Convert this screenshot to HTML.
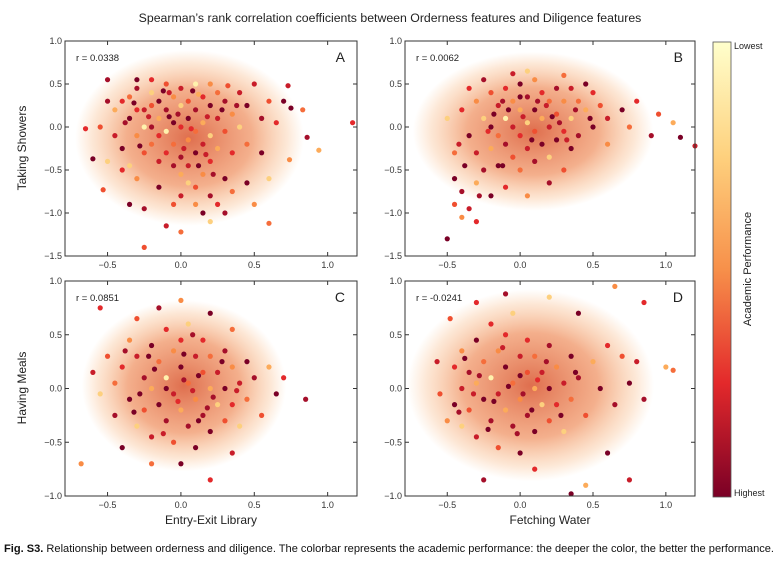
<!DOCTYPE html>
<html><head><meta charset="utf-8">
<style>
body{margin:0;background:#fff;width:780px;height:573px;overflow:hidden;font-family:"Liberation Sans",Arial,sans-serif}
svg text{font-family:"Liberation Sans",Arial,sans-serif}
</style></head>
<body>
<svg id="chart" width="780" height="573" viewBox="0 0 780 573">
<defs>
<linearGradient id="cbar" x1="0" y1="0" x2="0" y2="1">
<stop offset="0" stop-color="#ffffcc"/><stop offset="0.25" stop-color="#fed17e"/>
<stop offset="0.5" stop-color="#f7904a"/><stop offset="0.75" stop-color="#e3292b"/>
<stop offset="1" stop-color="#7a0026"/></linearGradient>
<radialGradient id="halo"><stop offset="0" stop-color="#d9552f" stop-opacity="0.85"/><stop offset="0.55" stop-color="#ec7a40" stop-opacity="0.6"/><stop offset="0.85" stop-color="#f6a05a" stop-opacity="0.25"/><stop offset="1" stop-color="#f8a860" stop-opacity="0"/></radialGradient>
</defs>
<text x="390" y="22" text-anchor="middle" font-size="12.3" fill="#222">Spearman’s rank correlation coefficients between Orderness features and Diligence features</text>
<g id="panels"></g>
<rect x="713" y="42" width="18" height="455" fill="url(#cbar)" stroke="#555" stroke-width="0.8"/>
<text x="734" y="49" font-size="9" fill="#222">Lowest</text>
<text x="734" y="496" font-size="9" fill="#222">Highest</text>
<text transform="translate(751,269) rotate(-90)" text-anchor="middle" font-size="11" fill="#222">Academic Performance</text>
<text transform="translate(26,148) rotate(-90)" text-anchor="middle" font-size="12" fill="#222">Taking Showers</text>
<text transform="translate(26,388) rotate(-90)" text-anchor="middle" font-size="12" fill="#222">Having Meals</text>
<text x="211" y="524" text-anchor="middle" font-size="12" fill="#222">Entry-Exit Library</text>
<text x="550" y="524" text-anchor="middle" font-size="12" fill="#222">Fetching Water</text>
<text x="4" y="552" font-size="10.9" textLength="770" lengthAdjust="spacingAndGlyphs" fill="#111"><tspan font-weight="bold">Fig. S3.</tspan> Relationship between orderness and diligence. The colorbar represents the academic performance: the deeper the color, the better the performance.</text>
</svg>
<script>
const xTicks=[-0.5,0.0,0.5,1.0];
const yTicksTop=[-1.5,-1.0,-0.5,0.0,0.5,1.0];
const yTicksBottom=[-1.0,-0.5,0.0,0.5,1.0];
const rValues=["r = 0.0338","r = 0.0062","r = 0.0851","r = -0.0241"];
const panelLetters=["A","B","C","D"];
const ptsA=[[-0.4,0.3,3],[-0.35,0.1,0],[-0.3,0.45,1],[-0.3,-0.1,6],[-0.25,0.2,2],[-0.25,-0.3,4],[-0.2,0.4,8],[-0.2,0.0,1],[-0.2,-0.2,5],[-0.15,0.3,0],[-0.15,0.1,7],[-0.15,-0.4,2],[-0.1,0.5,4],[-0.1,0.2,1],[-0.1,-0.05,9],[-0.1,-0.3,3],[-0.05,0.35,6],[-0.05,0.05,0],[-0.05,-0.2,5],[0,0.45,2],[0,0.25,8],[0,0.0,3],[0,-0.35,1],[0,-0.55,7],[0.05,0.3,4],[0.05,0.1,0],[0.05,-0.15,6],[0.05,-0.45,2],[0.1,0.5,9],[0.1,0.2,1],[0.1,-0.05,5],[0.1,-0.3,0],[0.1,-0.7,4],[0.15,0.35,3],[0.15,0.05,7],[0.15,-0.2,2],[0.15,-0.55,6],[0.2,0.25,0],[0.2,-0.1,8],[0.2,-0.4,3],[0.2,-0.8,1],[0.25,0.4,5],[0.25,0.1,2],[0.25,-0.25,7],[0.3,0.3,1],[0.3,-0.05,4],[0.3,-0.6,0],[0.35,0.15,6],[0.35,-0.3,3],[0.4,0.4,2],[0.4,0.0,8],[0.45,0.25,0],[0.45,-0.2,5],[-0.45,0.2,7],[-0.45,-0.1,2],[-0.4,-0.25,0],[-0.35,0.35,5],[-0.35,-0.45,8],[-0.3,0.2,3],[-0.25,0.0,9],[-0.2,0.25,4],[-0.15,-0.1,3],[-0.05,-0.45,1],[0.05,-0.65,8],[0.0,-0.8,2],[0.1,-0.9,6],[0.15,-1.0,0],[0.25,-0.9,3],[0.3,-1.0,1],[0.2,-1.1,8],[-0.05,-0.9,4],[-0.15,-0.7,0],[-0.3,-0.6,6],[-0.4,-0.5,3],[0.35,-0.75,5],[0.45,-0.65,0],[0.5,0.5,2],[0.55,0.1,1],[0.55,-0.3,0],[0.6,0.3,4],[0.6,-0.6,8],[0.65,0.05,3],[0.7,0.3,0],[0.5,-0.9,6],[-0.5,0.3,1],[-0.55,0.0,4],[-0.5,-0.4,8],[-0.35,-0.9,0],[-0.25,-0.95,1],[-0.1,-1.15,2],[1.17,0.05,3],[0.94,-0.27,7],[0.86,-0.12,1],[0.83,0.2,5],[0.75,0.22,0],[0.73,0.48,2],[0.74,-0.38,6],[0.6,-1.12,5],[-0.25,-1.4,4],[-0.65,-0.02,3],[-0.6,-0.37,0],[-0.5,0.55,1],[-0.53,-0.73,4],[0.0,-1.22,5],[-0.3,0.55,0],[-0.2,0.55,3],[0.2,0.5,6],[-0.08,0.4,2],[0.12,0.38,7],[0.32,0.48,4],[-0.38,0.05,1],[-0.28,-0.22,0],[-0.22,0.12,2],[-0.12,0.42,0],[-0.02,0.15,1],[0.08,0.42,0],[0.18,0.12,2],[0.28,0.2,0],[0.38,0.25,1],[-0.32,0.28,0],[0.02,-0.25,2],[0.12,-0.45,0],[0.22,-0.55,1],[0.07,-0.02,3],[-0.08,0.12,0],[0.17,-0.32,2]];
const ptsB=[[-0.4,0.2,3],[-0.35,-0.1,0],[-0.3,0.3,6],[-0.3,-0.3,2],[-0.25,0.1,8],[-0.25,-0.5,1],[-0.2,0.4,4],[-0.2,0.0,0],[-0.2,-0.25,7],[-0.15,0.25,2],[-0.15,-0.1,5],[-0.15,-0.45,0],[-0.1,0.45,3],[-0.1,0.1,9],[-0.1,-0.2,1],[-0.05,0.3,6],[-0.05,0.0,2],[-0.05,-0.35,4],[0,0.5,0],[0,0.2,7],[0,-0.1,3],[0,-0.5,5],[0.05,0.35,1],[0.05,0.05,8],[0.05,-0.25,2],[0.1,0.55,6],[0.1,0.2,0],[0.1,-0.05,4],[0.1,-0.4,1],[0.15,0.4,3],[0.15,0.1,7],[0.15,-0.2,0],[0.2,0.3,5],[0.2,0.0,2],[0.2,-0.35,8],[0.25,0.45,1],[0.25,0.15,4],[0.25,-0.15,0],[0.3,0.3,6],[0.3,-0.05,3],[0.35,0.45,2],[0.35,0.1,8],[0.35,-0.25,0],[0.4,0.3,5],[0.4,-0.1,1],[0.45,0.2,7],[0.5,0.4,3],[0.5,0.0,0],[0.55,0.25,4],[0.6,0.1,2],[0.6,-0.2,6],[0.7,0.2,0],[0.75,0.0,5],[0.8,0.3,3],[0.9,-0.1,1],[0.95,0.15,4],[1.05,0.05,7],[1.1,-0.12,0],[1.2,-0.22,2],[-0.45,-0.6,0],[-0.45,-0.9,4],[-0.4,-0.75,1],[-0.4,-1.05,6],[-0.5,-1.3,0],[-0.35,-0.95,2],[-0.3,-0.65,7],[-0.3,-1.1,3],[-0.45,-0.3,5],[-0.5,0.1,8],[-0.2,-0.8,0],[-0.1,-0.7,3],[0.05,-0.8,6],[0.2,-0.65,1],[0.3,-0.5,4],[-0.05,0.62,2],[0.05,0.65,8],[-0.25,0.55,1],[0.3,0.6,5],[0.45,0.5,0],[-0.35,0.45,3],[0.0,0.35,0],[-0.12,0.3,1],[0.18,0.25,2],[0.08,-0.15,0],[-0.22,-0.05,3],[0.27,0.05,1],[-0.38,-0.45,0],[-0.28,-0.8,1],[-0.42,-0.2,2],[-0.08,0.2,0],[0.12,0.3,1],[0.22,0.12,0],[0.02,0.12,2],[-0.18,0.15,0],[0.38,0.2,1],[0.48,0.1,0],[0.32,-0.15,2],[-0.12,-0.45,0]];
const ptsC=[[-0.4,0.2,3],[-0.35,-0.1,0],[-0.35,0.45,6],[-0.3,0.3,2],[-0.3,-0.35,8],[-0.25,0.1,1],[-0.25,-0.2,4],[-0.2,0.4,0],[-0.2,0.0,7],[-0.2,-0.45,2],[-0.15,0.25,5],[-0.15,-0.15,0],[-0.1,0.55,3],[-0.1,0.1,9],[-0.1,-0.3,1],[-0.05,0.35,6],[-0.05,-0.05,2],[-0.05,-0.5,4],[0,0.2,0],[0,-0.2,7],[0,0.45,3],[0.05,0.05,5],[0.05,-0.35,1],[0.05,0.6,8],[0.1,0.3,2],[0.1,-0.1,6],[0.1,-0.55,0],[0.15,0.15,4],[0.15,-0.25,1],[0.15,0.45,3],[0.2,0.0,7],[0.2,-0.4,0],[0.2,0.3,5],[0.25,0.15,2],[0.25,-0.15,8],[0.3,0.35,1],[0.3,-0.3,4],[0.3,0.0,0],[0.35,0.2,6],[0.35,-0.15,3],[0.4,0.05,2],[0.4,-0.35,8],[0.45,0.25,0],[0.45,-0.1,5],[0.5,0.1,1],[0.55,-0.25,4],[0.6,0.2,7],[0.65,-0.05,0],[0.7,0.1,3],[0.85,-0.1,1],[-0.45,0.05,5],[-0.45,-0.25,1],[-0.5,0.3,4],[-0.55,-0.05,8],[-0.6,0.15,2],[-0.68,-0.7,6],[-0.55,0.75,3],[-0.4,-0.55,0],[-0.3,0.65,4],[-0.15,0.75,1],[0.0,0.82,6],[0.2,0.7,0],[0.35,0.55,5],[0.2,-0.85,3],[0.0,-0.7,0],[-0.2,-0.7,5],[0.35,-0.6,2],[-0.1,0.0,0],[0.02,0.08,1],[0.12,0.12,0],[-0.02,-0.12,3],[0.08,-0.02,2],[-0.18,0.18,0],[0.22,-0.08,1],[-0.28,-0.05,0],[-0.38,0.35,1],[-0.32,-0.22,0],[-0.12,-0.42,2],[0.02,0.32,0],[0.18,-0.18,1],[0.28,0.25,0],[0.38,-0.02,2],[-0.22,0.3,0],[0.08,0.5,1],[0.12,-0.3,0]];
const ptsD=[[-0.45,0.2,3],[-0.45,-0.15,0],[-0.4,0.35,6],[-0.4,0.0,2],[-0.4,-0.35,8],[-0.35,0.15,1],[-0.35,-0.2,4],[-0.3,0.45,0],[-0.3,0.05,7],[-0.3,-0.45,2],[-0.25,0.25,5],[-0.25,-0.1,0],[-0.2,0.6,3],[-0.2,0.1,9],[-0.2,-0.3,1],[-0.15,0.35,6],[-0.15,-0.05,2],[-0.15,-0.55,4],[-0.1,0.2,0],[-0.1,-0.2,7],[-0.1,0.5,3],[-0.05,0.05,5],[-0.05,-0.35,1],[-0.05,0.7,8],[0,0.3,2],[0,-0.1,6],[0,-0.6,0],[0.05,0.15,4],[0.05,-0.25,1],[0.05,0.45,3],[0.1,0.0,7],[0.1,-0.4,0],[0.1,0.3,5],[0.15,0.15,2],[0.15,-0.15,8],[0.2,0.4,1],[0.2,-0.3,4],[0.2,0.0,0],[0.25,0.2,6],[0.25,-0.15,3],[0.3,0.05,2],[0.3,-0.4,8],[0.35,0.3,0],[0.35,-0.1,5],[0.4,0.1,1],[0.45,-0.25,4],[0.5,0.25,7],[0.55,0.0,0],[0.6,0.4,3],[0.65,-0.15,1],[0.7,0.3,4],[0.75,0.05,0],[0.8,0.25,2],[0.85,-0.1,1],[0.65,0.95,6],[0.85,0.8,3],[1.05,0.17,5],[1.0,0.2,7],[0.35,-0.98,0],[0.45,-0.9,7],[-0.55,-0.05,4],[-0.57,0.25,2],[-0.5,-0.3,6],[-0.48,0.65,4],[-0.3,0.8,3],[-0.1,0.88,1],[0.2,0.85,8],[0.4,0.7,0],[-0.25,-0.85,1],[0.1,-0.75,3],[0.6,-0.6,0],[0.75,-0.85,2],[-0.08,0.02,0],[0.02,-0.05,1],[-0.18,-0.12,0],[0.12,0.08,3],[-0.28,0.12,1],[0.0,0.12,0],[-0.38,0.28,0],[-0.42,-0.22,1],[-0.22,-0.38,0],[-0.12,0.38,2],[0.08,-0.2,0],[0.18,0.25,1],[0.28,-0.25,0],[-0.32,-0.05,2],[0.38,0.15,0],[-0.02,-0.42,1]];
const allPts=[ptsA,ptsB,ptsC,ptsD];
const palette=["#7a0026","#a50f2a","#c81d2a","#e3292b","#ef4f30","#f56d3b","#f98c45","#fcab5a","#fdd07e","#fff2ad"];
const NS="http://www.w3.org/2000/svg";
const layout=[{l:65,r:357,t:41,b:256,y0:-1.5,y1:1.0,yt:yTicksTop},{l:405,r:695,t:41,b:256,y0:-1.5,y1:1.0,yt:yTicksTop},{l:65,r:357,t:281,b:496,y0:-1.0,y1:1.0,yt:yTicksBottom},{l:405,r:695,t:281,b:496,y0:-1.0,y1:1.0,yt:yTicksBottom}];
const X0=-0.79,X1=1.2;
const root=document.getElementById('panels');
function mk(tag,attrs,parent){const e=document.createElementNS(NS,tag);for(const k in attrs)e.setAttribute(k,attrs[k]);parent.appendChild(e);return e;}
layout.forEach((L,i)=>{
  const g=mk('g',{},root);
  
  
  const sx=v=>L.l+(v-X0)/(X1-X0)*(L.r-L.l);
  const sy=v=>L.b-(v-L.y0)/(L.y1-L.y0)*(L.b-L.t);
  const pts=allPts[i];
  let mx=0,my=0;pts.forEach(p=>{mx+=p[0];my+=p[1];});mx/=pts.length;my/=pts.length;
  let vx=0,vy=0;pts.forEach(p=>{vx+=(p[0]-mx)**2;vy+=(p[1]-my)**2;});
  const sdx=Math.sqrt(vx/pts.length),sdy=Math.sqrt(vy/pts.length);
  const h=mk('ellipse',{cx:sx(mx),cy:sy(my),rx:Math.abs(sx(mx+2.2*sdx)-sx(mx)),ry:Math.abs(sy(my+2.2*sdy)-sy(my)),fill:'url(#halo)'},g);
  
  
  pts.forEach(p=>{
    const c=mk('circle',{cx:sx(p[0]),cy:sy(p[1]),r:2.6,fill:palette[p[2]]},g);
    
    
  });
  const fr=mk('rect',{x:L.l,y:L.t,width:L.r-L.l,height:L.b-L.t,fill:'none',stroke:'#333','stroke-width':1},g);
  
  
  xTicks.forEach(v=>{
    const x=sx(v);
    mk('line',{x1:x,x2:x,y1:L.b,y2:L.b-4,stroke:'#333'},g);
    mk('line',{x1:x,x2:x,y1:L.t,y2:L.t+4,stroke:'#333'},g);
    const t=mk('text',{x:x,y:L.b+12,'text-anchor':'middle','font-size':9,fill:'#333'},g);
    t.textContent=v.toFixed(1).replace('-','\u2212');
    
    
  });
  L.yt.forEach(v=>{
    const y=sy(v);
    mk('line',{x1:L.l,x2:L.l+4,y1:y,y2:y,stroke:'#333'},g);
    mk('line',{x1:L.r,x2:L.r-4,y1:y,y2:y,stroke:'#333'},g);
    const t=mk('text',{x:L.l-3,y:y+3,'text-anchor':'end','font-size':9,fill:'#333'},g);
    t.textContent=v.toFixed(1).replace('-','\u2212');
    
    
  });
  const r=mk('text',{x:L.l+11,y:L.t+20,'font-size':9.5,fill:'#222'},g);
  r.textContent=rValues[i];
  
  
  const lt=mk('text',{x:L.r-12,y:L.t+21,'text-anchor':'end','font-size':14,fill:'#222'},g);
  lt.textContent=panelLetters[i];
  
  
});
</script>
</body></html>
